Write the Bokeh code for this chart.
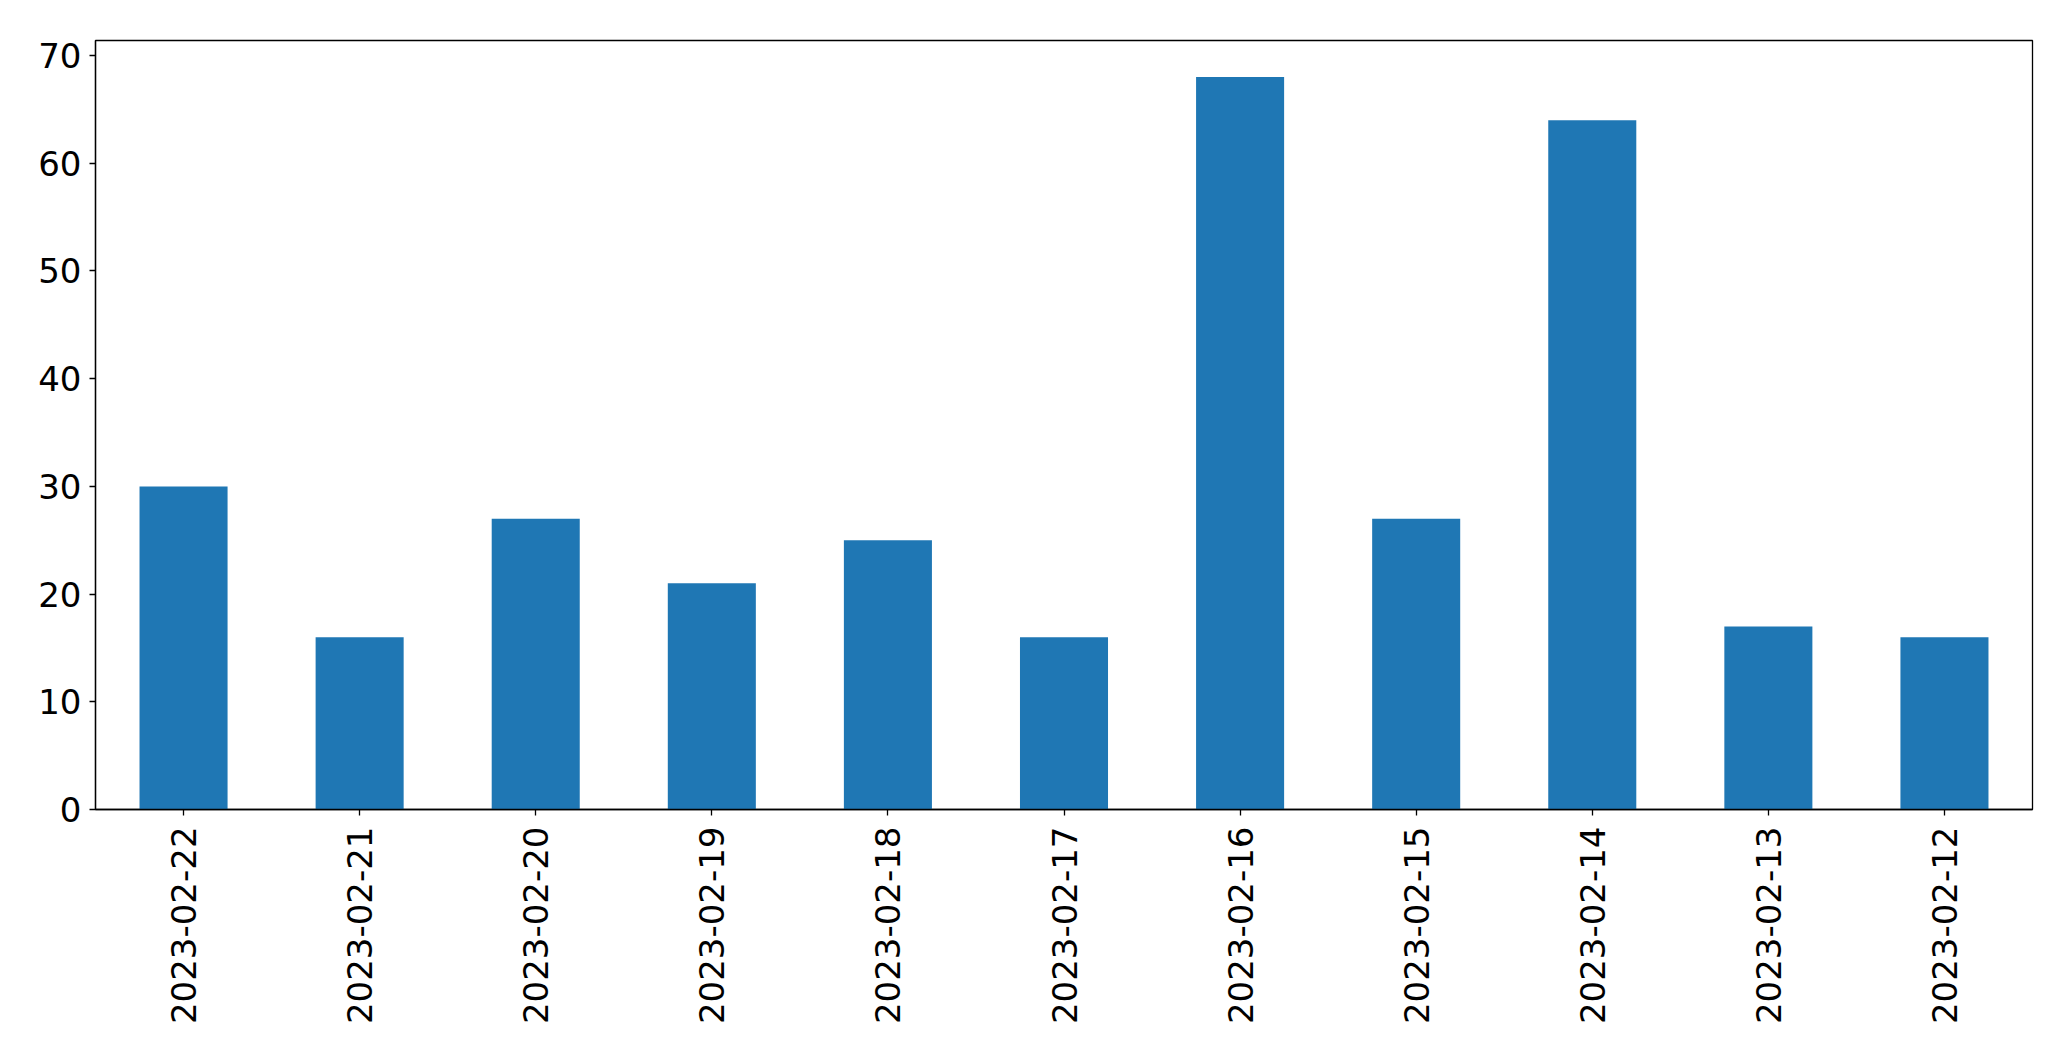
import math
from bokeh.plotting import figure
from bokeh.models import FactorRange, Range1d, SingleIntervalTicker, ColumnDataSource
from bokeh.embed import file_html
from bokeh.resources import INLINE

dates = ["2023-02-22", "2023-02-21", "2023-02-20", "2023-02-19", "2023-02-18",
         "2023-02-17", "2023-02-16", "2023-02-15", "2023-02-14", "2023-02-13",
         "2023-02-12"]
counts = [30, 16, 27, 21, 25, 16, 68, 27, 64, 17, 16]

src = ColumnDataSource(dict(x=dates, top=counts))

p = figure(width=2055, height=1045, output_backend="svg", toolbar_location=None,
           x_range=FactorRange(*dates, range_padding=0),
           y_range=Range1d(0, max(counts) * 1.05),
           min_border_left=95, min_border_right=23, min_border_top=40, min_border_bottom=236)

p.vbar(x="x", top="top", width=0.5, source=src, color="#1f77b4", line_color=None)

p.xgrid.visible = False
p.ygrid.visible = False
p.outline_line_color = "black"
p.outline_line_width = 1.3
p.outline_line_alpha = 1.0

p.yaxis.ticker = SingleIntervalTicker(interval=10)
for ax in (p.xaxis, p.yaxis):
    ax.major_label_text_font = "DejaVu Sans"
    ax.major_label_text_font_size = "34px"
    ax.major_label_text_color = "black"
    ax.axis_line_color = "black"
    ax.axis_line_width = 1.3
    ax.major_tick_line_color = "black"
    ax.major_tick_line_width = 1.3
    ax.major_tick_in = 0
    ax.major_tick_out = 6
    ax.minor_tick_line_color = None

p.yaxis.major_label_standoff = 8
p.xaxis.major_label_standoff = 11
p.xaxis.major_label_orientation = math.pi / 2

open("out.html", "w").write(file_html(p, INLINE))
